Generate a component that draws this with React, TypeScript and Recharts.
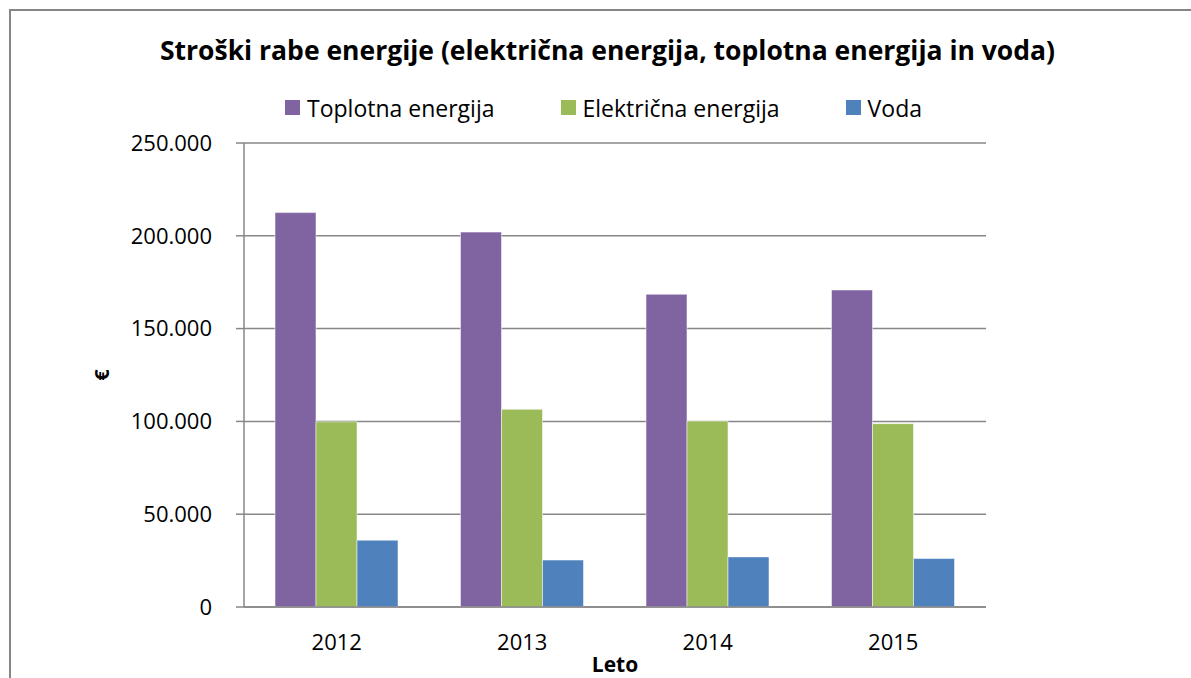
import { BarChart, Bar, XAxis, YAxis, CartesianGrid, Legend, Label } from "recharts";

const years = ["2012", "2013", "2014", "2015"];
const toplotna = [212500, 202000, 168500, 170800];
const elektricna = [99800, 106500, 100200, 98800];
const voda = [36000, 25300, 27000, 26100];
const yTicks = [0, 50000, 100000, 150000, 200000, 250000];

const seriesNames = ["Toplotna energija", "Električna energija", "Voda"];
const seriesColors = ["#8064A2", "#9BBB59", "#4F81BD"];

const data = years.map((y, i) => ({ year: y, toplotna: toplotna[i], elektricna: elektricna[i], voda: voda[i] }));

const FONT = "'Open Sans', sans-serif";
const GRID = "#878787";

const fmt = (v: number) => String(v).replace(/\B(?=(\d{3})+(?!\d))/g, ".");

const LegendRow = () => (
  <div style={{ height: 62, boxSizing: "border-box", paddingTop: 0 }}>
    <div style={{ height: 53, display: "flex", alignItems: "center", paddingLeft: 285, fontFamily: FONT, fontSize: 23, color: "#000" }}>
      {seriesNames.map((name, i) => (
        <div key={name} style={{ display: "flex", alignItems: "center", marginRight: 66 }}>
          <span style={{ width: 15, height: 15, background: seriesColors[i], marginRight: 7, display: "inline-block" }} />
          <span style={{ lineHeight: "34px" }}>{name}</span>
        </div>
      ))}
    </div>
  </div>
);

export default function App() {
  return (
    <div style={{ position: "absolute", left: 0, top: 0, width: 1191, height: 678, background: "#fff", overflow: "hidden" }}>
      <div style={{ position: "absolute", left: 9, top: 9, width: 1190, height: 680, borderLeft: "2px solid #868686", borderTop: "2px solid #868686" }} />
      <div style={{ position: "absolute", left: 0, top: 37, width: 1215, textAlign: "center", fontFamily: FONT, fontWeight: 700, fontSize: 26.5, lineHeight: "26px", color: "#000" }}>
        Stroški rabe energije (električna energija, toplotna energija in voda)
      </div>
      <BarChart width={1191} height={678} data={data} margin={{ top: 81, right: 205, left: 0, bottom: 0 }}
        barGap={0} barCategoryGap={31}>
        <CartesianGrid vertical={false} stroke={GRID} strokeWidth={1.5} />
        <Legend verticalAlign="top" align="left" width={1191} wrapperStyle={{ left: 0 }} content={() => <LegendRow />} />
        <XAxis dataKey="year" height={71} tickSize={0} tickMargin={27} axisLine={{ stroke: GRID, strokeWidth: 1.5 }}
          tick={{ fontSize: 22, fill: "#000", fontFamily: FONT }}>
          <Label value="Leto" position="insideBottom" offset={6} style={{ fontSize: 21, fontWeight: 700, fill: "#000", fontFamily: FONT }} />
        </XAxis>
        <YAxis width={244} domain={[0, 250000]} ticks={yTicks} tickFormatter={fmt} tickSize={8} tickMargin={24}
          axisLine={{ stroke: GRID, strokeWidth: 1.5 }} tickLine={{ stroke: GRID, strokeWidth: 1.5 }}
          tick={{ fontSize: 22, fill: "#000", fontFamily: FONT }}>
          <Label content={({ viewBox }: any) => {
            const cy = viewBox.y + viewBox.height / 2;
            return (
              <text x={109} y={cy} transform={`rotate(-90, 109, ${cy})`} textAnchor="middle" fontSize={20} fontWeight={700} fontFamily={FONT} fill="#000">€</text>
            );
          }} />
        </YAxis>
        <Bar dataKey="toplotna" name={seriesNames[0]} fill={seriesColors[0]} stroke="#ffffff" strokeOpacity={0.5} strokeWidth={1} isAnimationActive={false} />
        <Bar dataKey="elektricna" name={seriesNames[1]} fill={seriesColors[1]} stroke="#ffffff" strokeOpacity={0.5} strokeWidth={1} isAnimationActive={false} />
        <Bar dataKey="voda" name={seriesNames[2]} fill={seriesColors[2]} stroke="#ffffff" strokeOpacity={0.5} strokeWidth={1} isAnimationActive={false} />
      </BarChart>
    </div>
  );
}
